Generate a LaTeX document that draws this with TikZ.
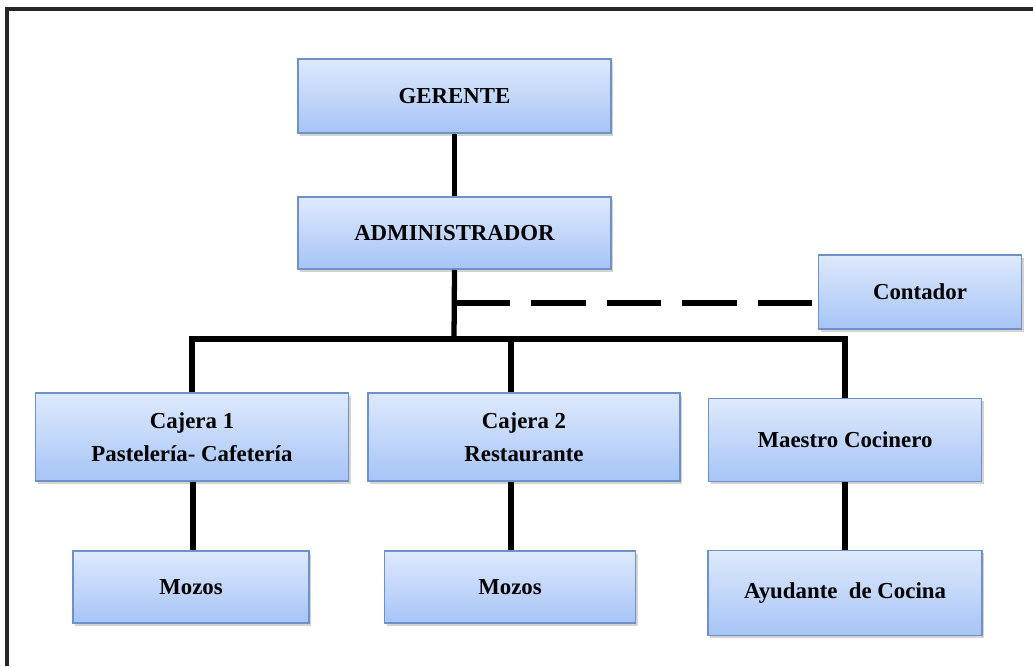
\documentclass[tikz,border=0pt]{standalone}
\usepackage{fontspec}
\setmainfont{Liberation Serif}
\usepackage{tikz}
\usetikzlibrary{shadows,calc}

\definecolor{boxTop}{RGB}{222,233,252}
\definecolor{boxBottom}{RGB}{166,196,246}
\definecolor{boxEdge}{RGB}{110,145,200}

\tikzset{
  orgBox/.style={draw=boxEdge, line width=0.9pt, top color=boxTop, bottom color=boxBottom,
    drop shadow={opacity=0.35, shadow xshift=1.2pt, shadow yshift=-1.5pt},
    inner sep=0pt, align=center, font=\fontsize{13}{19}\selectfont\bfseries},
  orgLine/.style={line width=3pt, black}
}

\begin{document}
\begin{tikzpicture}[x=0.02cm,y=-0.02cm]
\useasboundingbox (0,0) rectangle (1033,666);
\draw[line width=2pt, black!85] (7,666) -- (7,9) -- (1033,9);
% puestos
\node[orgBox, minimum width=6.26cm, minimum height=1.48cm] (ger) at (454.5,96) {GERENTE};
\node[orgBox, minimum width=6.26cm, minimum height=1.44cm] (adm) at (454.5,233) {ADMINISTRADOR};
\node[orgBox, minimum width=4.06cm, minimum height=1.48cm] (cont) at (920,292) {Contador};
\node[orgBox, minimum width=6.26cm, minimum height=1.76cm] (caj1) at (192,437) {Cajera 1\\Pastelería- Cafetería};
\node[orgBox, minimum width=6.24cm, minimum height=1.76cm] (caj2) at (524,437) {Cajera 2\\Restaurante};
\node[orgBox, minimum width=5.46cm, minimum height=1.66cm] (coc) at (845,440) {Maestro Cocinero};
\node[orgBox, minimum width=4.72cm, minimum height=1.44cm] (moz1) at (191,587) {Mozos};
\node[orgBox, minimum width=5.02cm, minimum height=1.44cm] (moz2) at (510,587) {Mozos};
\node[orgBox, minimum width=5.48cm, minimum height=1.7cm] (ayu) at (845,593) {Ayudante~~de Cocina};
% conexiones
\coordinate (bar) at (454,339);
\path (cont.west) ++(0,11) coordinate (dashEnd);
\draw[orgLine] (ger) -- (adm);
\draw[orgLine] (adm.south) -- (bar);
\draw[orgLine, dash pattern=on 31pt off 12pt] (adm.south |- dashEnd) ++(1,0) -- (dashEnd);
\draw[orgLine] (caj1.north) -- (caj1.north |- bar) -- (coc.north |- bar) -- (coc.north);
\draw[orgLine] ($(moz2.north |- bar)+(1,0)$) -- ($(moz2.north |- caj2.north)+(1,0)$);
\draw[orgLine] ($(caj1.south)+(1,0)$) -- ($(caj1.south |- moz1.north)+(1,0)$);
\draw[orgLine] ($(caj2.south -| moz2.north)+(1,0)$) -- ($(moz2.north)+(1,0)$);
\draw[orgLine] (coc.south) -- (ayu.north);
\end{tikzpicture}
\end{document}
